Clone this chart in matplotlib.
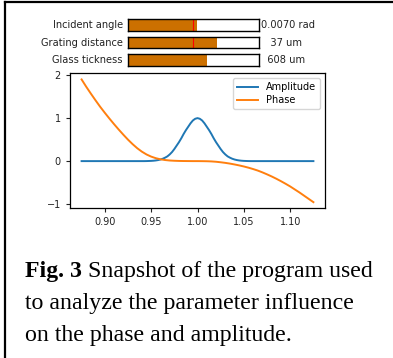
import matplotlib
matplotlib.use("Agg")
import matplotlib.pyplot as plt
from matplotlib.lines import Line2D

# ---- data ----
slider_labels = ["Incident angle", "Grating distance", "Glass tickness"]
slider_texts = ["0.0070 rad", "   37 um", "  608 um"]
slider_fill = [0.53, 0.684, 0.607]
slider_init = [0.5, 0.5, None]

freq = [0.875, 0.880, 0.885, 0.890, 0.895, 0.900, 0.905, 0.910, 0.915, 0.920,
        0.925, 0.930, 0.935, 0.940, 0.945, 0.950, 0.955, 0.960, 0.965, 0.970,
        0.975, 0.980, 0.985, 0.990, 0.995, 1.000, 1.005, 1.010, 1.015, 1.020,
        1.025, 1.030, 1.035, 1.040, 1.045, 1.050, 1.055, 1.060, 1.065, 1.070,
        1.075, 1.080, 1.085, 1.090, 1.095, 1.100, 1.105, 1.110, 1.115, 1.120,
        1.125]
phase = [1.90, 1.73, 1.57, 1.415, 1.265, 1.125, 0.99, 0.86, 0.735, 0.615,
         0.50, 0.395, 0.30, 0.22, 0.155, 0.105, 0.068, 0.042, 0.025, 0.014,
         0.008, 0.004, 0.002, 0.001, 0.0, 0.0, -0.001, -0.003, -0.007, -0.015,
         -0.027, -0.041, -0.058, -0.078, -0.10, -0.125, -0.153, -0.185, -0.22, -0.262,
         -0.308, -0.357, -0.41, -0.467, -0.527, -0.59, -0.66, -0.73, -0.805, -0.88,
         -0.955]

amp_freq = [0.875, 0.9425, 0.945, 0.9475, 0.950, 0.9525, 0.955, 0.9575, 0.960,
            0.9625, 0.965, 0.9675, 0.970, 0.9725, 0.975, 0.9775, 0.980, 0.9825,
            0.985, 0.9875, 0.990, 0.9925, 0.995, 0.9975, 1.000, 1.0025, 1.005,
            1.0075, 1.010, 1.0125, 1.015, 1.0175, 1.020, 1.0225, 1.025, 1.0275,
            1.030, 1.0325, 1.035, 1.0375, 1.040, 1.0425, 1.045, 1.0475, 1.050,
            1.0525, 1.055, 1.0575, 1.125]
amplitude = [0.0, 0.0, 0.001, 0.003, 0.005, 0.009, 0.015, 0.024, 0.037,
             0.055, 0.08, 0.11, 0.155, 0.21, 0.28, 0.36, 0.44, 0.53,
             0.63, 0.72, 0.80, 0.88, 0.945, 0.985, 1.0, 0.985, 0.945,
             0.88, 0.80, 0.72, 0.63, 0.53, 0.44, 0.36, 0.28, 0.21,
             0.155, 0.11, 0.08, 0.055, 0.037, 0.024, 0.015, 0.009, 0.005,
             0.003, 0.001, 0.0, 0.0]

xticks = [0.90, 0.95, 1.00, 1.05, 1.10]
yticks = [-1, 0, 1, 2]

caption_bold = "Fig. 3"
caption_lines = ["Snapshot of the program used",
                 "to analyze the parameter influence",
                 "on the phase and amplitude."]

W, H = 393, 358
fig = plt.figure(figsize=(W / 100, H / 100), dpi=100)

# border lines
fig.add_artist(Line2D([5 / W, 5 / W], [0, 1 - 1.5 / H], color="black", lw=1.6,
                      transform=fig.transFigure))
fig.add_artist(Line2D([5 / W, 1], [1 - 1.5 / H, 1 - 1.5 / H], color="black", lw=1.6,
                      transform=fig.transFigure))

# sliders
bar_tops = [19.3, 36.7, 54.0]
bar_h = 11.7
for lab, txt, fill, init, top in zip(slider_labels, slider_texts, slider_fill,
                                     slider_init, bar_tops):
    ax = fig.add_axes([128 / W, 1 - (top + bar_h) / H, 130.5 / W, bar_h / H])
    ax.set_xlim(0, 1)
    ax.set_ylim(0, 1)
    ax.barh(0.5, fill, height=1.0, left=0, color="#cc7000")
    if init is not None:
        ax.axvline(init, color="red", lw=0.8)
    ax.set_xticks([])
    ax.set_yticks([])
    for s in ax.spines.values():
        s.set_linewidth(1.0)
    ax.text(-0.04, 0.5, lab, transform=ax.transAxes, ha="right", va="center",
            fontsize=7.1, color="#222222")
    ax.text(1.02, 0.5, txt, transform=ax.transAxes, ha="left", va="center",
            fontsize=7.1, color="#222222")

# main plot
ax = fig.add_axes([70 / W, 1 - 208.3 / H, 255 / W, 135 / H])
ax.plot(amp_freq, amplitude, color="#1f77b4", lw=1.4, label="Amplitude")
ax.plot(freq, phase, color="#ff7f0e", lw=1.4, label="Phase")
ax.set_xticks(xticks)
ax.set_xticklabels([f"{t:.2f}" for t in xticks])
ax.set_yticks(yticks)
ax.tick_params(labelsize=7, length=3, width=0.8, colors="#222222")
for s in ax.spines.values():
    s.set_linewidth(0.9)
ax.legend(loc="upper right", fontsize=7, handlelength=2.2, borderpad=0.4,
          labelspacing=0.35)

# caption
cap_font = "Liberation Serif"
cap_size = 17.2
baselines = [277, 309, 341]
t0 = fig.text(25 / W, 1 - baselines[0] / H, caption_bold, fontsize=cap_size,
              fontweight="bold", family=cap_font, va="baseline", ha="left")
fig.canvas.draw()
bb = t0.get_window_extent()
space_px = 0.25 * cap_size * 100 / 72
fig.text((bb.x1 + space_px) / W, 1 - baselines[0] / H, caption_lines[0],
         fontsize=cap_size, family=cap_font, va="baseline", ha="left")
for line, b in zip(caption_lines[1:], baselines[1:]):
    fig.text(25 / W, 1 - b / H, line, fontsize=cap_size, family=cap_font,
             va="baseline", ha="left")

fig.savefig("out.png", dpi=100)
